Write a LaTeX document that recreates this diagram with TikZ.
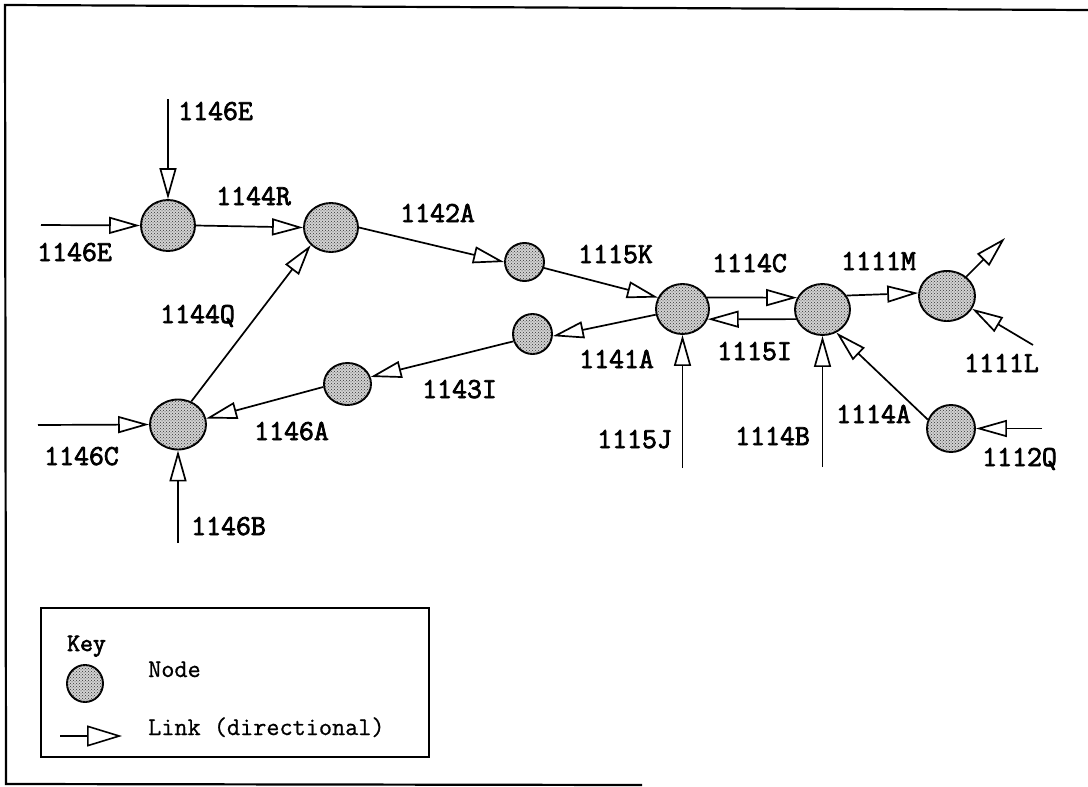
\documentclass[tikz,border=0pt]{standalone}
\usepackage{fontspec}
\newfontfamily\labfont[FakeBold=2.6]{Latin Modern Mono}
\newfontfamily\keyfont[FakeBold=0.8]{Latin Modern Mono}
\usetikzlibrary{arrows.meta,patterns,shapes.geometric}

\tikzset{
  site/.style n args={2}{ellipse, draw, line width=1.9pt, inner sep=0pt,
    minimum width=#1pt, minimum height=#2pt, fill=gray!35,
    postaction={pattern=crosshatch dots, pattern color=black!80}},
  link/.style={line width=1.7pt,
    -{Triangle[open, length=31pt, width=17pt, line width=1.7pt]}},
  lab/.style={font=\labfont\fontsize{29}{30}\selectfont,
    inner sep=0pt, anchor=base west},
  keytext/.style={font=\keyfont\fontsize{25.5}{27}\selectfont,
    inner sep=0pt, anchor=base west},
}

\begin{document}
\begin{tikzpicture}[x=1pt, y=-1pt]
\useasboundingbox (0,0) rectangle (1088,787);

% outer frame (open on the right)
\draw[line width=2.2pt] (1088,10) -- (5,5) -- (6,784) -- (642,785);

% network nodes
\node[site={54}{51}] (A) at (168,225.5) {};
\node[site={54}{49}] (B) at (331,227.5) {};
\node[site={39}{38}] (C) at (524.5,262) {};
\node[site={53}{50}] (D) at (682.5,309) {};
\node[site={39}{40}] (E) at (532.5,334) {};
\node[site={47}{42}] (F) at (347.5,384) {};
\node[site={55}{51}] (G) at (822.5,309.5) {};
\node[site={56}{50}] (H) at (947,296) {};
\node[site={48}{47}] (I) at (951,428.5) {};
\node[site={56}{50}] (J) at (178,424.5) {};

% free ends of the boundary links
\coordinate (eTop) at (168,99);
\coordinate (eLeft) at (41,225);
\coordinate (cLeft) at (38,425);
\coordinate (bBot) at (178,543);
\coordinate (jBot) at (682.5,468);
\coordinate (bBot2) at (822.5,467);
\coordinate (mOut) at (1005,238);
\coordinate (lIn) at (1033,345);
\coordinate (qIn) at (1042,428.5);

% links
\draw[link] (eTop) -- (A.north);
\draw[link] (eLeft) -- (A.west);
\draw[link] (A.east) -- (B.west);
\draw[link] (B.east) -- (C.west);
\draw[link] (C.-17) -- (D.155);
\draw[link] (D.192) -- (E.-6);
\draw[link] (E.201) -- (F.17);
\draw[link] (F.187) -- (J.12);
\draw[link] (J.60) -- (B.221);
\draw[link] (cLeft) -- (J.west);
\draw[link] (bBot) -- (J.south);
\draw[link] (jBot) -- (D.south);
\draw[link] (D.25) -- (G.155);
\draw[link] (G.200) -- (D.-22);
\draw[link] (G.30) -- (H.174);
\draw[link] (H.45) -- (mOut);
\draw[link] (lIn) -- (H.-27);
\draw[link] (bBot2) -- (G.south);
\draw[link] (I.159) -- (G.-59);
\draw[link] (qIn) -- (I.east);

% link labels
\node[lab] (t1146Ea) at (178,120) {1146E};
\node[lab] (t1146Eb) at (37,261) {1146E};
\node[lab] (t1144R) at (216,205) {1144R};
\node[lab] (t1142A) at (400,222) {1142A};
\node[lab] (t1144Q) at (160,323) {1144Q};
\node[lab] (t1115K) at (578,263) {1115K};
\node[lab] (t1141A) at (579,368) {1141A};
\node[lab] (t1143I) at (422,398) {1143I};
\node[lab] (t1146A) at (254,440) {1146A};
\node[lab] (t1146C) at (44,465) {1146C};
\node[lab] (t1146B) at (191,535) {1146B};
\node[lab] (t1115J) at (597,448) {1115J};
\node[lab] (t1114C) at (712,272) {1114C};
\node[lab] (t1115I) at (717,360) {1115I};
\node[lab] (t1111M) at (841,270) {1111M};
\node[lab] (t1111L) at (964,372) {1111L};
\node[lab] (t1114B) at (735,445) {1114B};
\node[lab] (t1114A) at (836,423) {1114A};
\node[lab] (t1112Q) at (982,466) {1112Q};

% key
\draw[line width=1.6pt] (41,608) rectangle (429,757);
\node[lab, font=\labfont\fontsize{25}{27}\selectfont] (keyT) at (67,651) {Key};
\node[site={36}{37}] (keyNode) at (85,683.5) {};
\node[keytext] (keyNodeT) at (148,677) {Node};
\coordinate (keyA) at (60,736);
\coordinate (keyB) at (122,736);
\draw[line width=1.6pt, -{Triangle[open, length=35pt, width=21pt, line width=1.6pt]}] (keyA) -- (keyB);
\node[keytext] (keyLinkT) at (148,735) {Link (directional)};
\end{tikzpicture}
\end{document}
